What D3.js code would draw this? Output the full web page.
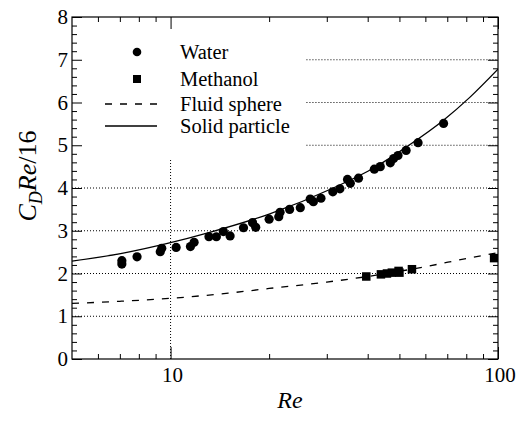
<!DOCTYPE html>
<html>
<head>
<meta charset="utf-8">
<script src="https://cdn.jsdelivr.net/npm/d3@7"></script>
<style>
  html, body { margin: 0; padding: 0; background: #fff; }
  svg { display: block; }
</style>
</head>
<body>
<svg id="chart" width="519" height="421"></svg>
<script>
// Drag correlation C_D·Re/16 against Reynolds number
const waterRe  = [7.1, 7.1, 7.9, 9.3, 9.4, 10.4, 11.5, 11.8, 13.1, 13.8, 14.5, 15.2, 16.7, 17.8, 18.2,
                  20.0, 21.4, 21.6, 23.1, 24.9, 26.7, 27.3, 28.8, 31.3, 32.9, 34.7, 35.4, 37.5, 41.9,
                  43.7, 46.9, 48.0, 49.5, 52.4, 57.0, 68.2];
const waterVal = [2.30, 2.22, 2.39, 2.51, 2.59, 2.61, 2.63, 2.73, 2.86, 2.86, 2.98, 2.88, 3.07, 3.19, 3.08,
                  3.27, 3.33, 3.43, 3.50, 3.54, 3.74, 3.68, 3.76, 3.91, 3.98, 4.20, 4.11, 4.23, 4.44,
                  4.50, 4.59, 4.69, 4.76, 4.88, 5.06, 5.51];

const methanolRe  = [39.6, 43.9, 45.8, 47.4, 49.7, 50.0, 54.6, 97.3];
const methanolVal = [1.93, 1.98, 2.00, 2.02, 2.06, 2.02, 2.10, 2.36];

const solidRe  = [5, 7.1, 10, 13, 20, 31.4, 42, 53, 68, 82, 100];
const solidVal = [2.29, 2.47, 2.72, 2.95, 3.39, 4.00, 4.48, 4.98, 5.58, 6.12, 6.78];

const fluidRe  = [5, 7, 10, 15, 20, 30, 40, 60, 80, 100];
const fluidVal = [1.30, 1.35, 1.42, 1.54, 1.65, 1.80, 1.93, 2.16, 2.35, 2.49];

const xMajorTicks = [10, 100];
const xMinorTicks = [6, 7, 8, 9, 20, 30, 40, 50, 60, 70, 80, 90];
const yMajorTicks = [0, 1, 2, 3, 4, 5, 6, 7, 8];
const fullGridY = [1, 2, 3, 4];
const partGridY = [5, 6, 7];

const legendItems = [
  { label: "Water", kind: "circle" },
  { label: "Methanol", kind: "square" },
  { label: "Fluid sphere", kind: "dash" },
  { label: "Solid particle", kind: "solid" }
];

// pick the first installed Times-like face
function pickSerif(cands) {
  const ctx = document.createElement("canvas").getContext("2d");
  const probe = "mmmWWWiiilll Re/16 Methanol";
  const widthOf = f => { ctx.font = "40px " + f; return ctx.measureText(probe).width; };
  const baseMono = widthOf("monospace"), baseSans = widthOf("sans-serif");
  for (const c of cands) {
    const q = `"${c}"`;
    if (widthOf(`${q}, monospace`) !== baseMono || widthOf(`${q}, sans-serif`) !== baseSans) return q;
  }
  return "serif";
}
const FONT = pickSerif(["Liberation Serif", "Times New Roman", "Tinos", "Nimbus Roman", "Nimbus Roman No9 L",
                        "FreeSerif", "DejaVu Serif", "Noto Serif", "Times"]);

const svg = d3.select("#chart").attr("font-family", FONT).style("font-family", FONT);
const L = 72, R = 498, T = 17, B = 359;

const x = d3.scaleLog().domain([5, 100]).range([L, R]);
const y = d3.scaleLinear().domain([0, 8]).range([B, T]);

const dotted = "1,2";

// grid lines
const grid = svg.append("g").attr("stroke", "#000").attr("stroke-width", 1)
  .attr("stroke-dasharray", dotted).attr("fill", "none");
grid.selectAll("line.full").data(fullGridY).join("line")
  .attr("x1", L).attr("x2", R).attr("y1", d => y(d)).attr("y2", d => y(d));
grid.selectAll("line.part").data(partGridY).join("line")
  .attr("x1", x(26)).attr("x2", R).attr("y1", d => y(d)).attr("y2", d => y(d));
grid.append("line")
  .attr("x1", x(10)).attr("x2", x(10)).attr("y1", y(0)).attr("y2", y(4.7));

// axes with inward ticks on all four sides
const xMinorLen = 5, xMajorLen = 12, yMinorLen = 5, yMajorLen = 10;
const yMinorTicks = d3.range(0, 8.01, 0.2).map(v => +v.toFixed(1)).filter(v => Math.abs(v - Math.round(v)) > 1e-6);

const axBottom = d3.axisBottom(x).tickValues(xMinorTicks).tickSize(-xMinorLen).tickFormat("");
const axBottomMaj = d3.axisBottom(x).tickValues(xMajorTicks).tickSize(-xMajorLen).tickFormat("");
const axTop = d3.axisTop(x).tickValues(xMinorTicks).tickSize(-xMinorLen).tickFormat("");
const axTopMaj = d3.axisTop(x).tickValues(xMajorTicks).tickSize(-xMajorLen).tickFormat("");
const axLeft = d3.axisLeft(y).tickValues(yMinorTicks).tickSize(-yMinorLen).tickFormat("");
const axLeftMaj = d3.axisLeft(y).tickValues(yMajorTicks).tickSize(-yMajorLen).tickFormat("");
const axRight = d3.axisRight(y).tickValues(yMinorTicks).tickSize(-yMinorLen).tickFormat("");
const axRightMaj = d3.axisRight(y).tickValues(yMajorTicks).tickSize(-yMajorLen).tickFormat("");

function place(axis, tx, ty) {
  const g = svg.append("g").attr("transform", `translate(${tx},${ty})`).call(axis);
  g.select(".domain").remove();
  g.selectAll("line").attr("stroke", "#000").attr("stroke-width", 1);
  return g;
}
place(axBottom, 0, B); place(axBottomMaj, 0, B);
place(axTop, 0, T); place(axTopMaj, 0, T);
place(axLeft, L, 0); place(axLeftMaj, L, 0);
place(axRight, R, 0); place(axRightMaj, R, 0);

// frame
svg.append("rect").attr("x", L).attr("y", T).attr("width", R - L).attr("height", B - T)
  .attr("fill", "none").attr("stroke", "#000").attr("stroke-width", 1.2);

// tick labels
svg.append("g").selectAll("text").data(xMajorTicks).join("text")
  .style("font-family", FONT)
  .attr("x", d => x(d) + 2).attr("y", 381.5).attr("text-anchor", "middle")
  .attr("font-size", 21).text(d => d);
svg.append("g").selectAll("text").data(yMajorTicks).join("text")
  .style("font-family", FONT)
  .attr("x", 68).attr("y", d => y(d) + 7).attr("text-anchor", "end")
  .attr("font-size", 21).text(d => d);

// axis titles
svg.append("text").style("font-family", FONT).attr("x", 290).attr("y", 408).attr("text-anchor", "middle")
  .attr("font-size", 24).attr("font-style", "italic").text("Re");

const yTitle = svg.append("text").style("font-family", FONT)
  .attr("transform", "translate(36,176) rotate(-90)")
  .attr("text-anchor", "middle").attr("font-size", 26);
yTitle.append("tspan").attr("font-style", "italic").text("C");
yTitle.append("tspan").attr("font-style", "italic").attr("font-size", 18).attr("dy", 6).text("D");
yTitle.append("tspan").attr("font-style", "italic").attr("dy", -6).text("Re");
yTitle.append("tspan").text("/16");

// clipped plotting region
svg.append("clipPath").attr("id", "plotClip").append("rect")
  .attr("x", L).attr("y", T).attr("width", R - L).attr("height", B - T);
const plot = svg.append("g").attr("clip-path", "url(#plotClip)");

const line = d3.line().x(d => x(d[0])).y(d => y(d[1])).curve(d3.curveMonotoneX);

plot.append("path").datum(d3.zip(solidRe, solidVal)).attr("d", line)
  .attr("fill", "none").attr("stroke", "#000").attr("stroke-width", 1.3);
plot.append("path").datum(d3.zip(fluidRe, fluidVal)).attr("d", line)
  .attr("fill", "none").attr("stroke", "#000").attr("stroke-width", 1.3)
  .attr("stroke-dasharray", "7,8");

plot.selectAll("circle.water").data(d3.zip(waterRe, waterVal)).join("circle")
  .attr("cx", d => x(d[0])).attr("cy", d => y(d[1])).attr("r", 4.6).attr("fill", "#000");

const sq = 8.5;
plot.selectAll("rect.meth").data(d3.zip(methanolRe, methanolVal)).join("rect")
  .attr("x", d => x(d[0]) - sq / 2).attr("y", d => y(d[1]) - sq / 2)
  .attr("width", sq).attr("height", sq).attr("fill", "#000");

// legend
const legendY = [52, 79, 104, 126];
const lg = svg.append("g");
legendItems.forEach((item, i) => {
  const cy = legendY[i];
  if (item.kind === "circle") {
    lg.append("circle").attr("cx", 137).attr("cy", cy).attr("r", 4.3).attr("fill", "#000");
  } else if (item.kind === "square") {
    lg.append("rect").attr("x", 137 - 4).attr("y", cy - 4).attr("width", 8).attr("height", 8).attr("fill", "#000");
  } else {
    lg.append("line").attr("x1", 105).attr("x2", 157).attr("y1", cy).attr("y2", cy)
      .attr("stroke", "#000").attr("stroke-width", 1.3)
      .attr("stroke-dasharray", item.kind === "dash" ? "7,8" : null);
  }
  lg.append("text").style("font-family", FONT).attr("x", 180).attr("y", cy + 6.5)
    .attr("font-size", 20.5).text(item.label);
});
</script>
</body>
</html>
